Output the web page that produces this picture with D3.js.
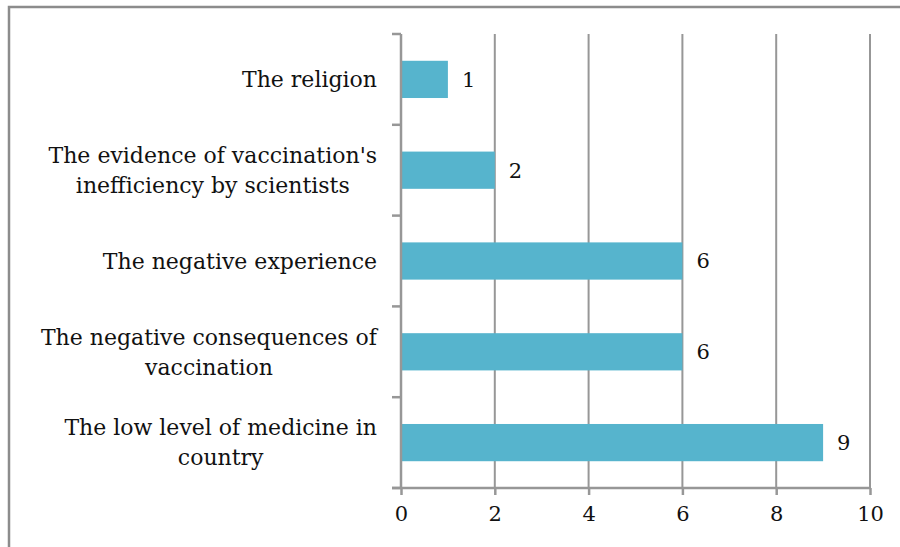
<!DOCTYPE html>
<html>
<head>
<meta charset="utf-8">
<script src="https://cdn.jsdelivr.net/npm/d3@7"></script>
<style>
  body { margin: 0; background: #fff; }
  text { font-family: "DejaVu Serif", serif; fill: #111; }
</style>
</head>
<body>
<svg id="chart" width="900" height="547"></svg>
<script>
// data, top to bottom as drawn
const categories = [
  ['The religion'],
  ["The evidence of vaccination's", 'inefficiency by scientists'],
  ['The negative experience'],
  ['The negative consequences of', 'vaccination'],
  ['The low level of medicine in', 'country']
];
const values = [1, 2, 6, 6, 9];
const xTicks = [0, 2, 4, 6, 8, 10];

const svg = d3.select('#chart');
const margin = {top: 34, left: 401, right: 30, bottom: 59};
const w = 870 - margin.left;
const h = 488 - margin.top;
const fontSize = 22;
const font = '"DejaVu Serif", serif';

// outer frame (only top and left edges show in the picture)
svg.append('path')
  .attr('d', 'M9,547 V7 H900')
  .attr('fill', 'none')
  .attr('stroke', '#8c8c8c')
  .attr('stroke-width', 2.5);

const main = svg.append('g')
  .attr('transform', `translate(${margin.left},${margin.top})`);

const x = d3.scaleLinear().domain([0, 10]).range([0, w]);
const y = d3.scaleBand()
  .domain(d3.range(categories.length))
  .range([0, h])
  .paddingInner(0.59)
  .paddingOuter(0.295);

// vertical grid
main.append('g')
  .selectAll('line')
  .data(xTicks.slice(1))
  .join('line')
  .attr('x1', d => x(d)).attr('x2', d => x(d))
  .attr('y1', 0).attr('y2', h)
  .attr('stroke', '#979797')
  .attr('stroke-width', 2);

// bars
main.append('g')
  .selectAll('rect')
  .data(values)
  .join('rect')
  .attr('x', x(0))
  .attr('y', (d, i) => y(i))
  .attr('width', d => x(d) - x(0))
  .attr('height', y.bandwidth())
  .attr('fill', '#56b4cd');

// value labels
main.append('g')
  .selectAll('text')
  .data(values)
  .join('text')
  .attr('x', d => x(d) + 14)
  .attr('y', (d, i) => y(i) + y.bandwidth() / 2)
  .attr('dy', '0.35em')
  .attr('font-size', fontSize - 1)
  .text(d => d);

// x axis
const xAxis = main.append('g')
  .attr('transform', `translate(0,${h})`)
  .call(d3.axisBottom(x).tickValues(xTicks).tickSize(7).tickPadding(11).tickSizeOuter(0));
xAxis.select('.domain').remove();
xAxis.append('line')
  .attr('x1', -9).attr('x2', w).attr('stroke', '#979797').attr('stroke-width', 2.5);
xAxis.selectAll('.tick line').attr('stroke', '#979797').attr('stroke-width', 2.5);
xAxis.selectAll('.tick text')
  .attr('font-size', fontSize - 1)
  .attr('font-family', font)
  .attr('fill', '#111');

// y axis: line plus ticks at band boundaries
const step = h / categories.length;
main.append('line')
  .attr('x1', 0).attr('x2', 0).attr('y1', 0).attr('y2', h)
  .attr('stroke', '#979797').attr('stroke-width', 2.5);
main.append('g')
  .selectAll('line')
  .data(d3.range(categories.length + 1))
  .join('line')
  .attr('x1', -9).attr('x2', 0)
  .attr('y1', d => d * step).attr('y2', d => d * step)
  .attr('stroke', '#979797').attr('stroke-width', 2.5);

// category labels: block right aligned, lines centred inside it
const lineH = 30;
const labels = main.append('g');
categories.forEach((lines, i) => {
  const g = labels.append('g');
  const texts = g.selectAll('text')
    .data(lines)
    .join('text')
    .attr('font-size', fontSize)
    .attr('text-anchor', 'middle')
    .attr('y', (d, j) => y(i) + y.bandwidth() / 2 + (j - (lines.length - 1) / 2) * lineH)
    .attr('dy', '0.35em')
    .text(d => d);
  const maxW = d3.max(texts.nodes(), n => n.getComputedTextLength());
  texts.attr('x', -24 - maxW / 2);
});
</script>
</body>
</html>
